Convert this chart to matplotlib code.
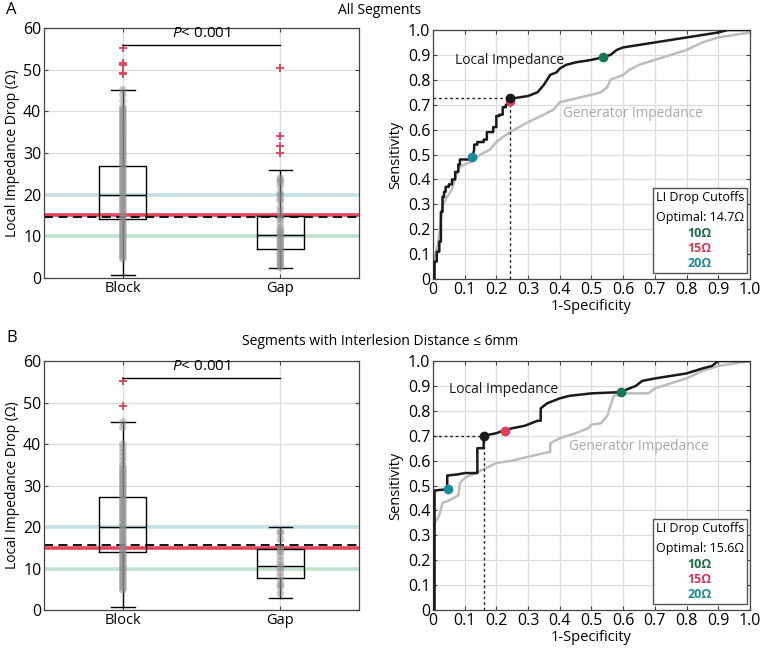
import numpy as np
import matplotlib
matplotlib.use("Agg")
import matplotlib.pyplot as plt

plt.rcParams['font.family'] = ['Open Sans', 'DejaVu Sans']
plt.rcParams['font.size'] = 9.5
plt.rcParams['mathtext.fontset'] = 'custom'
plt.rcParams['mathtext.it'] = 'Open Sans:italic'
plt.rcParams['mathtext.rm'] = 'Open Sans'

# ---- box plot data (Local impedance drop, ohm) ----
groups = ['Block', 'Gap']

# panel A: all segments
a_block_stats = dict(q1=14.2, med=19.8, q3=26.8, whislo=0.8, whishi=45.2,
                     fliers=[55.3, 51.5, 51.0, 49.3, 49.0])
a_gap_stats = dict(q1=7.0, med=10.3, q3=14.8, whislo=2.5, whishi=26.0,
                   fliers=[50.5, 34.0, 31.7, 30.0])
a_block_pts = [4.5, 5.0, 5.5, 6.0, 6.5, 7.0, 7.5, 8.0, 8.5, 9.0, 9.5, 10.0, 10.5,
               11.0, 11.5, 12.0, 12.5, 13.0, 13.5, 14.0, 14.5, 15.0, 15.5, 16.0,
               16.5, 17.0, 17.5, 18.0, 18.5, 19.0, 19.5, 20.0, 20.5, 21.0, 21.5,
               22.0, 22.5, 23.0, 23.5, 24.0, 24.5, 25.0, 25.5, 26.0, 26.5, 27.0,
               27.5, 28.0, 28.5, 29.0, 29.5, 30.0, 30.5, 31.0, 31.5, 32.0, 32.5,
               33.0, 33.5, 34.0, 34.5, 35.0, 35.5, 36.0, 36.5, 37.0, 37.5, 38.0,
               38.5, 39.0, 39.5, 40.0, 40.5, 41.0, 42.5, 44.0, 45.2]
a_gap_pts = [2.5, 3.0, 3.5, 4.0, 4.5, 5.0, 5.5, 6.0, 6.5, 7.0, 7.5, 8.0, 8.5, 9.0,
             9.5, 10.0, 10.5, 11.0, 11.5, 12.0, 13.0, 14.0, 14.5, 15.0, 16.0, 17.0,
             18.5, 19.0, 20.0, 20.5, 22.0, 23.0, 23.5, 24.0]
a_optimal = 14.7

# panel B: interlesion distance <= 6mm
b_block_stats = dict(q1=14.0, med=19.9, q3=27.2, whislo=0.8, whishi=45.3,
                     fliers=[55.3, 49.2])
b_gap_stats = dict(q1=7.8, med=10.5, q3=14.8, whislo=2.9, whishi=20.1, fliers=[])
b_block_pts = [4.8, 5.3, 5.8, 6.3, 6.8, 7.3, 7.8, 8.3, 8.8, 9.3, 9.8, 10.3, 10.8,
               11.3, 11.8, 12.3, 12.8, 13.3, 13.8, 14.3, 14.8, 15.3, 15.8, 16.3,
               16.8, 17.3, 17.8, 18.3, 18.8, 19.3, 19.8, 20.3, 20.8, 21.3, 21.8,
               22.3, 22.8, 23.3, 23.8, 24.3, 24.8, 25.3, 25.8, 26.3, 26.8, 27.3,
               27.8, 28.3, 28.8, 29.3, 29.8, 30.3, 30.8, 31.3, 31.8, 32.3, 32.8,
               33.3, 33.8, 34.3, 35.0, 36.0, 37.0, 38.0, 39.0, 40.0, 44.0, 45.3]
b_gap_pts = [4.0, 5.5, 6.0, 7.0, 8.0, 9.0, 10.0, 10.5, 11.0, 12.0, 13.0, 14.0,
             14.5, 15.0, 17.0, 18.5, 19.0]
b_optimal = 15.6

cutoffs = [10, 15, 20]
cutoff_line_colors = ['#bfe2cf', '#e3445d', '#c2e0e6']
cutoff_dot_colors = ['#137a55', '#e0405a', '#1a8b9b']
cutoff_txt_colors = ['#1d6b45', '#d6364f', '#1f8a94']

# ---- ROC curves ----
a_li_x = [0.0, 0.005, 0.005, 0.012, 0.012, 0.02, 0.02, 0.025, 0.025, 0.03, 0.03,
          0.035, 0.035, 0.04, 0.04, 0.05, 0.05, 0.06, 0.06, 0.07, 0.07, 0.08,
          0.08, 0.085, 0.085, 0.12, 0.125, 0.13, 0.13, 0.14, 0.14, 0.16, 0.16,
          0.17, 0.17, 0.19, 0.19, 0.2, 0.2, 0.21, 0.21, 0.22, 0.22, 0.23, 0.23,
          0.242, 0.242, 0.25, 0.3, 0.33, 0.35, 0.37, 0.39, 0.4, 0.42, 0.45, 0.5,
          0.535, 0.56, 0.58, 0.6, 0.65, 0.7, 0.75, 0.8, 0.85, 0.9, 0.93, 1.0]
a_li_y = [0.0, 0.0, 0.07, 0.07, 0.11, 0.11, 0.15, 0.15, 0.27, 0.27, 0.33, 0.33,
          0.35, 0.35, 0.37, 0.37, 0.38, 0.38, 0.40, 0.40, 0.43, 0.43, 0.46, 0.46,
          0.48, 0.48, 0.49, 0.52, 0.54, 0.54, 0.55, 0.55, 0.56, 0.56, 0.59, 0.59,
          0.61, 0.61, 0.655, 0.655, 0.66, 0.66, 0.69, 0.69, 0.70, 0.70, 0.728,
          0.725, 0.735, 0.75, 0.78, 0.82, 0.83, 0.845, 0.86, 0.87, 0.88, 0.89,
          0.90, 0.92, 0.93, 0.94, 0.95, 0.96, 0.97, 0.98, 0.99, 1.0, 1.0]
a_gi_x = [0.005, 0.016, 0.03, 0.04, 0.06, 0.074, 0.084, 0.1, 0.12, 0.15, 0.18,
          0.2, 0.22, 0.25, 0.3, 0.35, 0.38, 0.4, 0.45, 0.5, 0.53, 0.55, 0.56,
          0.6, 0.62, 0.65, 0.7, 0.75, 0.8, 0.85, 0.9, 0.95, 1.0]
a_gi_y = [0.08, 0.145, 0.29, 0.32, 0.36, 0.42, 0.45, 0.46, 0.47, 0.50, 0.52,
          0.55, 0.57, 0.595, 0.63, 0.66, 0.68, 0.71, 0.725, 0.74, 0.75, 0.77,
          0.80, 0.82, 0.84, 0.86, 0.88, 0.90, 0.92, 0.95, 0.97, 0.98, 0.99]
a_opt_pt = (0.242, 0.728)
a_cut_pts = [(0.535, 0.89), (0.242, 0.715), (0.122, 0.49)]

b_li_x = [0.0, 0.005, 0.005, 0.045, 0.045, 0.08, 0.1, 0.14, 0.14, 0.16, 0.16,
          0.2, 0.22, 0.25, 0.29, 0.31, 0.33, 0.34, 0.34, 0.36, 0.38, 0.4, 0.43,
          0.5, 0.592, 0.62, 0.64, 0.66, 0.7, 0.75, 0.8, 0.85, 0.88, 0.9, 1.0]
b_li_y = [0.0, 0.0, 0.48, 0.485, 0.54, 0.545, 0.55, 0.55, 0.65, 0.65, 0.70,
          0.71, 0.72, 0.73, 0.74, 0.75, 0.76, 0.76, 0.81, 0.83, 0.84, 0.85, 0.86,
          0.87, 0.875, 0.89, 0.90, 0.92, 0.93, 0.94, 0.95, 0.97, 0.98, 1.0, 1.0]
b_gi_x = [0.0, 0.02, 0.03, 0.05, 0.08, 0.085, 0.1, 0.15, 0.2, 0.25, 0.3, 0.35,
          0.37, 0.37, 0.4, 0.45, 0.49, 0.5, 0.53, 0.55, 0.57, 0.6, 0.68, 0.7,
          0.75, 0.8, 0.85, 0.9, 1.0]
b_gi_y = [0.34, 0.38, 0.43, 0.44, 0.46, 0.51, 0.53, 0.56, 0.59, 0.60, 0.615,
          0.63, 0.635, 0.67, 0.69, 0.71, 0.73, 0.745, 0.75, 0.78, 0.86, 0.87,
          0.87, 0.89, 0.91, 0.93, 0.96, 0.98, 1.0]
b_opt_pt = (0.16, 0.70)
b_cut_pts = [(0.592, 0.875), (0.228, 0.72), (0.047, 0.487)]


def style_axes(ax):
    ax.tick_params(direction='in', top=True, right=True, length=3,
                   color='#444444', labelsize=11.5, pad=2)
    for s in ax.spines.values():
        s.set_color('#444444')
        s.set_linewidth(0.9)
    ax.grid(True, color='#dcdcdc', linewidth=0.9)
    ax.set_axisbelow(True)


def draw_box(ax, blk_stats, gap_stats, blk_pts, gap_pts, optimal):
    style_axes(ax)
    for c, col in zip(cutoffs, cutoff_line_colors):
        ax.axhline(c, color=col, lw=2.6, zorder=1.5)
    ax.axhline(optimal, color='black', lw=1.3, ls=(0, (5, 3)), zorder=1.6)
    stats = [dict(blk_stats, label=groups[0]), dict(gap_stats, label=groups[1])]
    ax.bxp(stats, positions=[1, 2], widths=0.3, patch_artist=False,
           boxprops=dict(color='black', lw=1.0),
           medianprops=dict(color='black', lw=1.0),
           whiskerprops=dict(color='black', lw=1.0),
           capprops=dict(color='black', lw=1.0),
           flierprops=dict(marker='+', markeredgecolor='#e0405a',
                           markersize=6, markeredgewidth=1.3),
           capwidths=0.15, zorder=2)
    ax.scatter(np.ones(len(blk_pts)), blk_pts, s=30, color='#8c8c8c',
               alpha=0.45, edgecolors='none', zorder=3)
    ax.scatter(np.full(len(gap_pts), 2.0), gap_pts, s=30, color='#8c8c8c',
               alpha=0.45, edgecolors='none', zorder=3)
    ax.plot([1, 2], [56, 56], color='black', lw=1.0, zorder=4)
    ax.text(1.5, 56.8, r'$P$' + '< 0.001', ha='center', va='bottom',
            fontsize=11)
    ax.set_xlim(0.5, 2.5)
    ax.set_ylim(0, 60)
    ax.set_yticks(range(0, 61, 10))
    ax.set_xticks([1, 2])
    ax.set_xticklabels(groups, fontsize=10.5)
    ax.set_ylabel('Local Impedance Drop (Ω)', fontsize=10, labelpad=2)


def draw_roc(ax, li_x, li_y, gi_x, gi_y, opt_pt, cut_pts, opt_val, li_pos, gi_pos):
    style_axes(ax)
    ax.plot(gi_x, gi_y, color='#bdbdbd', lw=1.8, zorder=2)
    ax.plot(li_x, li_y, color='#1a1a1a', lw=1.8, zorder=3)
    ax.plot([0, opt_pt[0]], [opt_pt[1], opt_pt[1]], color='#222222', lw=1.0,
            ls=(0, (2, 2)), zorder=2.5)
    ax.plot([opt_pt[0], opt_pt[0]], [0, opt_pt[1]], color='#222222', lw=1.0,
            ls=(0, (2, 2)), zorder=2.5)
    for (px, py), col in zip(cut_pts, cutoff_dot_colors):
        ax.plot(px, py, 'o', color=col, ms=6, zorder=5)
    ax.plot(*opt_pt, 'o', color='#1a1a1a', ms=6, zorder=5)
    ax.text(li_pos[0], li_pos[1], 'Local Impedance', fontsize=10,
            color='#1a1a1a', va='center')
    ax.text(gi_pos[0], gi_pos[1], 'Generator Impedance', fontsize=9.8,
            color='#a8a8a8', va='center')
    # cutoff legend box
    ax.add_patch(plt.Rectangle((0.695, 0.024), 0.295, 0.341, fill=True,
                               facecolor='white', edgecolor='#555555', lw=1.0,
                               zorder=6))
    ax.text(0.842, 0.329, 'LI Drop Cutoffs', ha='center', va='center',
            fontsize=9, zorder=7)
    ax.text(0.842, 0.249, 'Optimal: %.1fΩ' % opt_val, ha='center', va='center',
            fontsize=9, zorder=7)
    for yy, c, col in zip([0.184, 0.124, 0.064], cutoffs, cutoff_txt_colors):
        ax.text(0.842, yy, '%dΩ' % c, ha='center', va='center', fontsize=9,
                color=col, fontweight='bold', zorder=7)
    ax.set_xlim(0, 1)
    ax.set_ylim(0, 1)
    ticks = np.round(np.arange(0, 1.01, 0.1), 1)
    labels = ['0'] + ['%.1f' % t for t in ticks[1:]]
    ax.set_xticks(ticks)
    ax.set_xticklabels(labels)
    ax.set_yticks(ticks)
    ax.set_yticklabels(labels)
    ax.set_xlabel('1-Specificity', fontsize=10.5, labelpad=1)
    ax.set_ylabel('Sensitivity', fontsize=10.5, labelpad=3)


fig = plt.figure(figsize=(7.6, 6.48), dpi=100)

ax1 = fig.add_axes([0.058, 0.571, 0.4145, 0.3858])
draw_box(ax1, a_block_stats, a_gap_stats, a_block_pts, a_gap_pts, a_optimal)
ax2 = fig.add_axes([0.5697, 0.5694, 0.417, 0.3843])
draw_roc(ax2, a_li_x, a_li_y, a_gi_x, a_gi_y, a_opt_pt, a_cut_pts, a_optimal,
         (0.068, 0.876), (0.41, 0.666))

ax3 = fig.add_axes([0.058, 0.0586, 0.4145, 0.3843])
draw_box(ax3, b_block_stats, b_gap_stats, b_block_pts, b_gap_pts, b_optimal)
ax4 = fig.add_axes([0.5697, 0.0586, 0.417, 0.3843])
draw_roc(ax4, b_li_x, b_li_y, b_gi_x, b_gi_y, b_opt_pt, b_cut_pts, b_optimal,
         (0.05, 0.885), (0.43, 0.655))

fig.text(0.5, 0.984, 'All Segments', ha='center', va='center', fontsize=10)
fig.text(0.5, 0.473, 'Segments with Interlesion Distance ≤ 6mm', ha='center',
         va='center', fontsize=10)
fig.text(0.008, 0.985, 'A', fontsize=12, va='center')
fig.text(0.008, 0.478, 'B', fontsize=12, va='center')

fig.savefig('out.png', dpi=100)
